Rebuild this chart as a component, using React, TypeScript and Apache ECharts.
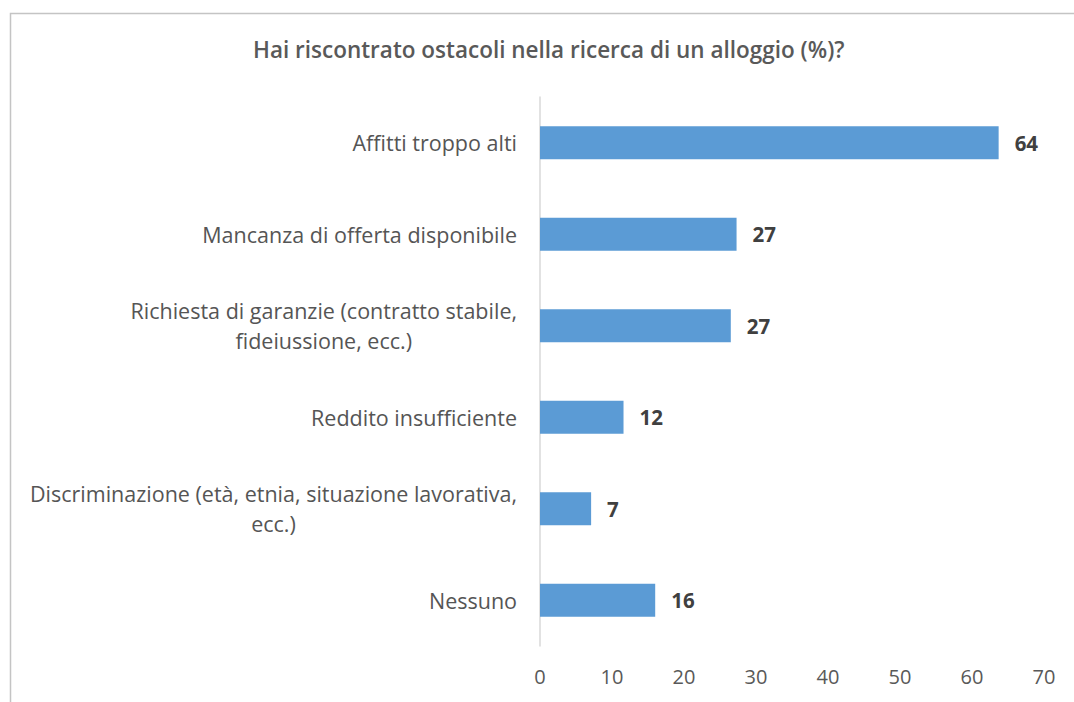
import React, { useEffect, useRef } from "react";
import * as echarts from "echarts";

const TITLE = "Hai riscontrato ostacoli nella ricerca di un alloggio (%)?";
const categories = [
  "Affitti troppo alti",
  "Mancanza di offerta disponibile",
  "Richiesta di garanzie (contratto stabile,\nfideiussione, ecc.)",
  "Reddito insufficiente",
  "Discriminazione (età, etnia, situazione lavorativa,\necc.)",
  "Nessuno",
];
const values = [63.7, 27.3, 26.5, 11.6, 7.1, 16.0];
const xTicks = { min: 0, max: 70, interval: 10 };

const FONT = "'Open Sans', Lato, sans-serif";

export default function App() {
  const ref = useRef<HTMLDivElement>(null);
  useEffect(() => {
    if (!ref.current) return;
    const chart = echarts.init(ref.current, undefined, { renderer: "svg" });
    chart.setOption({
      animation: false,
      backgroundColor: "#ffffff",
      title: {
        text: TITLE,
        left: 248,
        top: 33,
        textStyle: { fontFamily: FONT, fontSize: 22.5, fontWeight: 600, color: "#595959" },
      },
      graphic: [
        {
          type: "rect",
          left: 8,
          top: 11,
          shape: { x: 0, y: 0, width: 1100, height: 720 },
          style: { fill: "none", stroke: "#c4c4c4", lineWidth: 1.5 },
          silent: true,
        },
      ],
      grid: { left: 540, right: 30, top: 97, bottom: 56, containLabel: false },
      xAxis: {
        type: "value",
        min: xTicks.min,
        max: xTicks.max,
        interval: xTicks.interval,
        axisLine: { show: false },
        axisTick: { show: false },
        splitLine: { show: false },
        axisLabel: { color: "#595959", fontFamily: FONT, fontSize: 20, margin: 20 },
      },
      yAxis: {
        type: "category",
        data: categories,
        inverse: true,
        axisLine: { show: true, lineStyle: { color: "#d9d9d9", width: 1.5 } },
        axisTick: { show: false },
        axisLabel: {
          margin: 23,
          align: "right",
          formatter: (v: string) => v.split("\n").map((l) => `{c|${l}}`).join("\n"),
          rich: {
            c: {
              align: "center",
              fontFamily: FONT,
              fontSize: 21.5,
              color: "#555555",
              lineHeight: 30,
            },
          },
        },
      },
      series: [
        {
          type: "bar",
          data: values,
          barWidth: "36%",
          itemStyle: { color: "#5b9bd5" },
          label: {
            show: true,
            position: "right",
            distance: 16,
            formatter: (p: any) => String(Math.round(p.value)),
            fontFamily: FONT,
            fontSize: 20.5,
            fontWeight: "bold",
            color: "#404040",
          },
        },
      ],
    });
    return () => chart.dispose();
  }, []);
  return (
    <div
      ref={ref}
      style={{ position: "fixed", left: 0, top: 0, width: 1074, height: 702, background: "#fff" }}
    />
  );
}
